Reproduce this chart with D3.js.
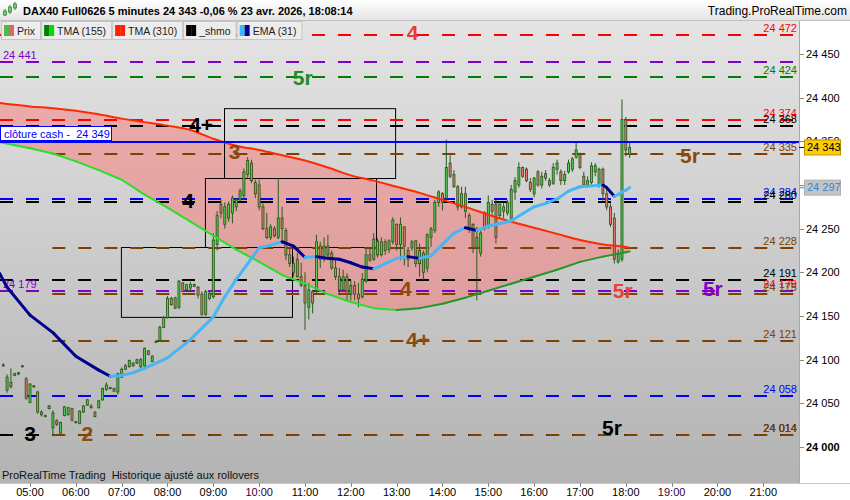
<!DOCTYPE html>
<html>
<head>
<meta charset="utf-8">
<script src="https://cdn.jsdelivr.net/npm/d3@7"></script>
<style>
body { margin: 0; background: #fff; }
svg { display: block; font-family: "Liberation Sans", Arial, sans-serif; }
svg text { white-space: pre; }
</style>
</head>
<body>
<div id="chart"></div>
<script>
// ---- data ----
const titleText = "DAX40 Full0626 5 minutes 24 343 -0,06 % 23 avr. 2026, 18:08:14";
const siteText = "Trading.ProRealTime.com";
const footText = "ProRealTime Trading  Historique ajusté aux rollovers";
const cashText = "clôture cash -  24 349";
const cashPrice = 24349;

const legendNames = ["Prix", "TMA (155)", "TMA (310)", "_shmo", "EMA (31)"];

const firstCandle = "04:25";   // 5 minute candles
// open, high, low, close
const ohlc = [
  [24094,24096,24092,24093],[24065,24083,24062,24080],[24074,24090,24067,24069],[24082,24085,24081,24084],
  [24084,24086,24082,24085],[24092,24094,24091,24093],[24078,24080,24054,24056],[24051,24073,24050,24072],
  [24069,24071,24068,24070],[24063,24064,24038,24040],[24040,24042,24035,24037],[24036,24037,24034,24035],
  [24044,24048,24043,24047],[24022,24042,24014,24039],[24030,24032,24024,24026],[24016,24029,24015,24028],
  [24036,24047,24035,24046],[24037,24046,24036,24045],[24044,24045,24029,24031],[24029,24030,24027,24028],
  [24027,24042,24026,24041],[24040,24048,24039,24047],[24048,24055,24047,24054],[24047,24049,24044,24045],
  [24040,24041,24034,24035],[24045,24054,24044,24053],[24054,24068,24053,24067],[24066,24074,24064,24071],
  [24068,24069,24066,24067],[24067,24068,24063,24064],[24063,24085,24060,24084],[24080,24091,24079,24089],
  [24089,24095,24088,24093],[24092,24100,24091,24099],[24096,24097,24092,24093],[24096,24101,24095,24100],
  [24092,24102,24090,24100],[24093,24114,24090,24113],[24110,24111,24105,24106],[24098,24105,24097,24104],
  [24120,24122,24119,24121],[24122,24139,24121,24137],[24137,24150,24136,24148],[24148,24173,24147,24170],
  [24170,24172,24162,24163],[24171,24172,24158,24159],[24160,24191,24158,24190],[24188,24189,24177,24178],
  [24180,24187,24179,24186],[24182,24189,24177,24186],[24184,24187,24183,24186],[24183,24184,24170,24174],
  [24175,24178,24150,24152],[24152,24180,24150,24178],[24170,24178,24168,24176],[24172,24245,24170,24237],
  [24232,24270,24225,24265],[24278,24283,24262,24268],[24255,24280,24250,24275],[24262,24281,24258,24278],
  [24268,24288,24256,24285],[24275,24285,24270,24283],[24283,24296,24281,24293],[24288,24319,24283,24315],
  [24312,24332,24308,24328],[24325,24329,24302,24305],[24303,24306,24285,24290],[24300,24306,24271,24275],
  [24275,24279,24248,24250],[24250,24268,24238,24240],[24240,24255,24237,24252],[24250,24253,24240,24242],
  [24240,24308,24238,24262],[24262,24275,24237,24250],[24248,24251,24214,24220],[24220,24228,24206,24210],
  [24210,24218,24195,24200],[24215,24222,24194,24195],[24195,24211,24183,24185],[24185,24200,24134,24165],
  [24160,24188,24146,24180],[24178,24180,24153,24165],[24180,24243,24175,24235],[24230,24235,24205,24215],
  [24215,24240,24212,24230],[24230,24243,24217,24220],[24222,24225,24203,24205],[24205,24214,24191,24195],
  [24195,24205,24174,24180],[24180,24203,24178,24195],[24195,24199,24168,24175],[24175,24191,24168,24185],
  [24185,24190,24168,24175],[24175,24188,24160,24170],[24172,24199,24170,24192],[24190,24229,24188,24220],
  [24220,24229,24212,24214],[24215,24245,24213,24238],[24236,24239,24217,24220],[24220,24240,24218,24235],
  [24235,24238,24220,24225],[24226,24238,24222,24236],[24235,24263,24232,24260],[24255,24256,24225,24232],
  [24232,24263,24214,24255],[24252,24253,24208,24230],[24225,24229,24206,24215],[24228,24237,24225,24235],
  [24236,24237,24206,24210],[24210,24233,24195,24225],[24222,24225,24191,24200],[24205,24245,24200,24243],
  [24240,24252,24229,24250],[24248,24283,24245,24280],[24280,24294,24275,24292],[24290,24292,24271,24280],
  [24285,24352,24283,24320],[24325,24334,24308,24310],[24312,24317,24297,24298],[24298,24300,24271,24275],
  [24275,24298,24273,24290],[24290,24298,24262,24270],[24265,24268,24245,24250],[24255,24256,24222,24228],
  [24228,24252,24168,24240],[24222,24248,24218,24245],[24268,24270,24248,24250],[24255,24288,24250,24280],
  [24278,24283,24265,24270],[24278,24283,24233,24240],[24265,24281,24262,24278],[24275,24280,24262,24270],
  [24268,24283,24265,24280],[24262,24300,24258,24295],[24292,24309,24283,24305],[24300,24326,24297,24320],
  [24320,24321,24308,24310],[24318,24320,24303,24305],[24303,24308,24292,24295],[24290,24309,24286,24308],
  [24315,24317,24298,24300],[24300,24315,24296,24310],[24308,24317,24305,24313],[24305,24308,24298,24300],
  [24302,24325,24300,24320],[24318,24329,24312,24325],[24315,24318,24300,24305],[24305,24316,24300,24312],
  [24315,24329,24313,24325],[24318,24332,24315,24330],[24332,24348,24330,24340],[24335,24337,24318,24320],
  [24310,24315,24297,24300],[24300,24310,24297,24305],[24303,24326,24300,24322],[24315,24325,24310,24322],
  [24300,24320,24297,24318],[24318,24320,24282,24290],[24290,24297,24271,24275],[24275,24279,24252,24255],
  [24262,24268,24210,24215],[24212,24226,24210,24222],[24215,24398,24212,24375],[24375,24378,24333,24340],
  [24335,24350,24331,24343]
];

const tmaTimes = ["04:20","05:00","05:30","06:00","06:30","07:00","07:30","08:00","08:30","09:00",
  "09:30","10:00","10:30","11:00","11:30","12:00","12:30","13:00","13:30","14:00",
  "14:30","15:00","15:30","16:00","16:30","17:00","17:30","18:00","18:05"];
const tma310 = [24394,24390,24388,24385,24381,24376,24372,24368,24363,24353,
  24345,24340,24334,24328,24320,24311,24305,24298,24291,24283,
  24275,24266,24258,24251,24244,24237,24232,24229,24228];
const tma155 = [24349,24342,24336,24327,24317,24306,24289,24274,24258,24242,
  24226,24212,24197,24187,24175,24166,24159,24157,24159,24164,
  24171,24179,24187,24195,24203,24212,24218,24223,24224];

const emaTimes = ["04:20","04:30","05:00","05:30","06:00","06:30","06:45","07:00","07:15","07:30",
  "08:00","08:30","09:00","09:15","09:30","09:45","10:00","10:15","10:30","10:45",
  "11:00","11:15","11:30","11:45","12:00","12:15","12:30","12:45","13:00","13:15",
  "13:30","13:45","14:00","14:15","14:30","14:45","15:00","15:15","15:30","15:45",
  "16:00","16:15","16:30","16:45","17:00","17:15","17:30","17:35","17:40","17:45",
  "17:50","17:55","18:00","18:05"];
const ema31 = [24199,24183,24151,24131,24104,24088,24081,24082,24085,24090,
  24102,24123,24149,24172,24192,24210,24228,24231,24235,24230,
  24217,24218,24216,24215,24211,24206,24204,24210,24216,24218,
  24216,24219,24232,24245,24251,24248,24253,24256,24259,24267,
  24275,24279,24284,24293,24298,24299,24300,24297,24292,24287,
  24289,24292,24294,24297];

// horizontal levels
const levelPrices = [24472,24441,24424,24374,24368,24335,24284,24280,24228,24191,24179,24179,24175,24121,24058,24014,24014];
const levelKinds  = ["rouge","violet","vert","rouge","noir","marron","bleu","noir","marron","noir","rouge","violet","marron","marron","bleu","noir","marron"];

// rectangles (time from, time to, low, high)
const boxFrom = ["09:14","08:49","06:59"];
const boxTo   = ["12:58","12:33","10:43"];
const boxLow  = [24308,24229,24149];
const boxHigh = [24388,24308,24229];

// text marks on the levels
const noteText  = ["4","5r","4+","3","5r","4","4","5r","5r","4+","3","2","5r"];
const noteKind  = ["rouge","vert","noir","marron","marron","noir","marron","rouge5r","violet","marron","noir","marron","noir"];
const noteTime  = ["13:21","10:57","08:44","09:28","19:24","08:27","13:12","17:56","19:54","13:28","05:00","06:15","17:42"];
const notePrice = [24475,24423,24369,24338,24334,24282,24181,24179,24182,24123,24016,24016,24022];

const lastPrice = 24343;
const lastEma = 24297;

const hourTicks = ["05:00","06:00","07:00","08:00","09:00","10:00","11:00","12:00","13:00",
  "14:00","15:00","16:00","17:00","18:00","19:00","20:00","21:00"];
const priceTicks = [24000,24050,24100,24150,24200,24250,24300,24350,24400,24450];

// ---- drawing ----
const W = 850, H = 500;
const plotR = 799, plotT = 21, plotB = 483;

const day = (s, sec) => { const [h, m] = s.split(":").map(Number); return new Date(2026, 3, 23, h, m, sec || 0); };
const fmt = d3.formatLocale({decimal: ",", thousands: " ", grouping: [3], currency: ["", ""]}).format(",d");

const x = d3.scaleTime()
  .domain([day("04:20", 43), day("21:46", 45)])
  .range([0, plotR]);
const y = d3.scaleLinear()
  .domain([24000, 24450])
  .range([447, 54]);

const colours = {
  rouge: "#ff0000", violet: "#8000c8", vert: "#008000", noir: "#000000",
  marron: "#804000", bleu: "#0000ff", rouge5r: "#e8403c"
};

const svg = d3.select("#chart").append("svg")
  .attr("width", W)
  .attr("height", H);

const defs = svg.append("defs");
const bg = defs.append("linearGradient").attr("id", "bg").attr("x1", 0).attr("y1", 0).attr("x2", 0).attr("y2", 1);
bg.append("stop").attr("offset", "0%").attr("stop-color", "#e4e4e4");
bg.append("stop").attr("offset", "100%").attr("stop-color", "#b3b3b3");
const hg = defs.append("linearGradient").attr("id", "hg").attr("x1", 0).attr("y1", 0).attr("x2", 0).attr("y2", 1);
hg.append("stop").attr("offset", "0%").attr("stop-color", "#ffffff");
hg.append("stop").attr("offset", "100%").attr("stop-color", "#e4e4e4");
defs.append("clipPath").attr("id", "plotclip")
  .append("rect").attr("x", 0).attr("y", plotT).attr("width", plotR).attr("height", plotB - plotT);

svg.append("rect").attr("width", W).attr("height", H).attr("fill", "#ffffff");
svg.append("rect")
  .attr("x", 0).attr("y", plotT)
  .attr("width", plotR).attr("height", plotB - plotT)
  .attr("fill", "url(#bg)");

const plot = svg.append("g").attr("clip-path", "url(#plotclip)");

// pink band between the two TMA
const tmaRows = tmaTimes.map((t, i) => ({t: day(t), a: tma155[i], b: tma310[i]}));
plot.append("path")
  .datum(tmaRows)
  .attr("fill", "rgba(255,110,110,0.45)")
  .attr("d", d3.area().curve(d3.curveMonotoneX)
    .x(d => x(d.t)).y0(d => y(d.a)).y1(d => y(d.b)));

// rectangles
plot.selectAll("rect.box")
  .data(boxFrom.map((f, i) => ({f: day(f), t: day(boxTo[i]), lo: boxLow[i], hi: boxHigh[i]})))
  .join("rect")
  .attr("class", "box")
  .attr("x", d => x(d.f) + 0.5)
  .attr("y", d => y(d.hi) + 0.5)
  .attr("width", d => x(d.t) - x(d.f))
  .attr("height", d => y(d.lo) - y(d.hi))
  .attr("fill", "none")
  .attr("stroke", "#000")
  .attr("stroke-width", 1);

// dashed levels
const levelRows = levelPrices.map((p, i) => ({p, k: levelKinds[i]}));
plot.selectAll("line.level")
  .data(levelRows)
  .join("line")
  .attr("class", "level")
  .attr("x1", d => d.k === "marron" ? x(day("05:29")) : 0)
  .attr("x2", plotR)
  .attr("y1", d => Math.round(y(d.p)))
  .attr("y2", d => Math.round(y(d.p)))
  .attr("stroke", d => colours[d.k])
  .attr("stroke-width", 2)
  .attr("stroke-dasharray", "13,13")
  .attr("stroke-dashoffset", d => d.k === "marron" ? -x(day("05:29")) : 0);

// level labels
plot.selectAll("text.level")
  .data(levelRows)
  .join("text")
  .attr("class", "level")
  .attr("x", d => d.k === "violet" ? 3 : 797)
  .attr("y", d => y(d.p) - 3)
  .attr("text-anchor", d => d.k === "violet" ? "start" : "end")
  .attr("font-size", 11)
  .attr("fill", d => colours[d.k])
  .text(d => fmt(d.p));

// candles
const t0 = day(firstCandle);
const candles = ohlc.map((r, i) => ({t: d3.timeMinute.offset(t0, 5 * i), o: r[0], h: r[1], l: r[2], c: r[3]}));
const step = x(d3.timeMinute.offset(t0, 5)) - x(t0);
const bw = step * 0.52;
const cg = plot.append("g");
cg.selectAll("line")
  .data(candles)
  .join("line")
  .attr("x1", d => x(d.t)).attr("x2", d => x(d.t))
  .attr("y1", d => y(d.h)).attr("y2", d => y(d.l))
  .attr("stroke", "#2b5a1c")
  .attr("stroke-width", 1);
cg.selectAll("rect")
  .data(candles)
  .join("rect")
  .attr("x", d => x(d.t) - bw / 2)
  .attr("y", d => y(Math.max(d.o, d.c)))
  .attr("width", bw)
  .attr("height", d => Math.max(1, Math.abs(y(d.o) - y(d.c))))
  .attr("fill", d => d.c >= d.o ? "#56d056" : "#ee7b72")
  .attr("stroke", "#2b5a1c")
  .attr("stroke-width", 0.9);

// TMA 310
plot.append("path")
  .datum(tmaRows)
  .attr("fill", "none")
  .attr("stroke", "#ff2a00")
  .attr("stroke-width", 2)
  .attr("d", d3.line().curve(d3.curveMonotoneX).x(d => x(d.t)).y(d => y(d.b)));

// TMA 155, colour by slope
plot.append("g").selectAll("line")
  .data(d3.pairs(tmaRows))
  .join("line")
  .attr("x1", d => x(d[0].t)).attr("y1", d => y(d[0].a))
  .attr("x2", d => x(d[1].t)).attr("y2", d => y(d[1].a))
  .attr("stroke", d => d[1].a < d[0].a ? "#2add2a" : "#22962a")
  .attr("stroke-width", 2)
  .attr("stroke-linecap", "round");

// EMA 31, colour by slope
const emaRows = emaTimes.map((t, i) => ({t: day(t), v: ema31[i]}));
plot.append("g").selectAll("line")
  .data(d3.pairs(emaRows))
  .join("line")
  .attr("x1", d => x(d[0].t)).attr("y1", d => y(d[0].v))
  .attr("x2", d => x(d[1].t)).attr("y2", d => y(d[1].v))
  .attr("stroke", d => d[1].v < d[0].v ? "#00008c" : "#47b6f5")
  .attr("stroke-width", 3)
  .attr("stroke-linecap", "round");

// cash close line
plot.append("line")
  .attr("x1", 0).attr("x2", plotR)
  .attr("y1", Math.round(y(cashPrice))).attr("y2", Math.round(y(cashPrice)))
  .attr("stroke", "#0000ff")
  .attr("stroke-width", 2);
plot.append("rect")
  .attr("x", 0.5).attr("y", Math.round(y(cashPrice)) - 15.5)
  .attr("width", 111).attr("height", 14)
  .attr("fill", "#fff").attr("stroke", "#0000ff");
plot.append("text")
  .attr("x", 4).attr("y", Math.round(y(cashPrice)) - 4)
  .attr("font-size", 11).attr("fill", "#0000ff")
  .text(cashText);

// big notes
plot.selectAll("text.note")
  .data(noteText.map((s, i) => ({s, k: noteKind[i], t: day(noteTime[i]), p: notePrice[i]})))
  .join("text")
  .attr("class", "note")
  .attr("x", d => x(d.t))
  .attr("y", d => y(d.p))
  .attr("dy", "0.36em")
  .attr("text-anchor", "middle")
  .attr("font-size", 21)
  .attr("font-weight", "bold")
  .attr("fill", d => d.k === "marron" ? "#8a4a10" : d.k === "vert" ? "#1f8a1f" : d.k === "rouge" ? "#e83a3a" : colours[d.k])
  .text(d => d.s);

// right axis
svg.append("line")
  .attr("x1", plotR + 0.5).attr("x2", plotR + 0.5)
  .attr("y1", plotT).attr("y2", plotB)
  .attr("stroke", "#a8a8a8");
const ra = svg.append("g");
ra.selectAll("line")
  .data(priceTicks)
  .join("line")
  .attr("x1", plotR + 1).attr("x2", plotR + 5)
  .attr("y1", d => Math.round(y(d)) + 0.5).attr("y2", d => Math.round(y(d)) + 0.5)
  .attr("stroke", "#888");
ra.selectAll("text")
  .data(priceTicks)
  .join("text")
  .attr("x", plotR + 7)
  .attr("y", d => y(d))
  .attr("dy", "0.35em")
  .attr("font-size", 11)
  .attr("font-weight", d => d === 24000 ? "bold" : "normal")
  .attr("fill", "#000")
  .text(d => fmt(d));

// last price and EMA value boxes
svg.append("line")
  .attr("x1", plotR).attr("x2", plotR + 5)
  .attr("y1", y(lastEma)).attr("y2", y(lastEma))
  .attr("stroke", "#47b6f5").attr("stroke-width", 1.5);
svg.append("rect")
  .attr("x", plotR + 5.5).attr("y", y(lastEma) - 7.5)
  .attr("width", 36).attr("height", 15)
  .attr("fill", "#c4c4c4").attr("stroke", "#b0b0b0");
svg.append("text")
  .attr("x", plotR + 8).attr("y", y(lastEma)).attr("dy", "0.35em")
  .attr("font-size", 11).attr("fill", "#2a8ad8")
  .text(fmt(lastEma));
svg.append("line")
  .attr("x1", plotR).attr("x2", plotR + 5)
  .attr("y1", y(lastPrice)).attr("y2", y(lastPrice))
  .attr("stroke", "#000").attr("stroke-width", 1);
svg.append("rect")
  .attr("x", plotR + 5.5).attr("y", y(lastPrice) - 7.5)
  .attr("width", 36).attr("height", 15)
  .attr("fill", "#ffcc00").attr("stroke", "#b89400");
svg.append("text")
  .attr("x", plotR + 8).attr("y", y(lastPrice)).attr("dy", "0.35em")
  .attr("font-size", 11).attr("fill", "#000")
  .text(fmt(lastPrice));

// bottom time axis
svg.append("line")
  .attr("x1", 0).attr("x2", W)
  .attr("y1", plotB + 0.5).attr("y2", plotB + 0.5)
  .attr("stroke", "#c8c8c8");
const ba = svg.append("g");
ba.selectAll("line")
  .data(hourTicks)
  .join("line")
  .attr("x1", d => Math.round(x(day(d))) + 0.5).attr("x2", d => Math.round(x(day(d))) + 0.5)
  .attr("y1", plotB).attr("y2", plotB + 4)
  .attr("stroke", "#888");
ba.selectAll("text")
  .data(hourTicks)
  .join("text")
  .attr("x", d => x(day(d)))
  .attr("y", 496)
  .attr("text-anchor", "middle")
  .attr("font-size", 11)
  .attr("fill", d => (d === "10:00" || d === "19:00") ? "#3a0038" : "#000")
  .text(d => d);

svg.append("text")
  .attr("x", 2).attr("y", 479)
  .attr("font-size", 11).attr("fill", "#111")
  .text(footText);

// header
svg.append("rect").attr("width", W).attr("height", 20).attr("fill", "url(#hg)");
svg.append("line").attr("x1", 0).attr("x2", W).attr("y1", 20.5).attr("y2", 20.5).attr("stroke", "#c0c0c0");
const icon = svg.append("g");
[[5, 9, 16, 11, 15], [10, 5, 14, 7, 12], [15, 2, 10, 4, 8]].forEach(r => {
  icon.append("line").attr("x1", r[0]).attr("x2", r[0]).attr("y1", r[1]).attr("y2", r[2]).attr("stroke", "#2d7a2d");
  icon.append("rect").attr("x", r[0] - 1.5).attr("y", r[3]).attr("width", 3).attr("height", r[4] - r[3])
    .attr("fill", "#6ad36a").attr("stroke", "#2d7a2d").attr("stroke-width", 0.7);
});
svg.append("text")
  .attr("x", 23).attr("y", 15)
  .attr("font-size", 11).attr("font-weight", "bold")
  .text(titleText);
svg.append("text")
  .attr("x", 847).attr("y", 15)
  .attr("text-anchor", "end")
  .attr("font-size", 12)
  .text(siteText);

// legend
const swatches = [["#4cbb4c", "#e06666"], ["#008000", "#00dd00"], ["#ff2200", "#ff2200"], ["#000000", "#000000"], ["#40b4ff", "#000099"]];
let lx = 1;
legendNames.forEach((name, i) => {
  const g = svg.append("g");
  const box = g.append("rect").attr("x", lx + 0.5).attr("y", 21.5).attr("height", 18)
    .attr("fill", "#ececec").attr("stroke", "#c4c4c4");
  g.append("rect").attr("x", lx + 3).attr("y", 25).attr("width", 5).attr("height", 11).attr("fill", swatches[i][0]);
  g.append("rect").attr("x", lx + 8).attr("y", 25).attr("width", 5).attr("height", 11).attr("fill", swatches[i][1]);
  const t = g.append("text").attr("x", lx + 16).attr("y", 34.5)
    .attr("font-size", 10.5).attr("fill", "#222").text(name);
  const w = t.node().getComputedTextLength() + 21;
  box.attr("width", w);
  lx += w + 1;
});
</script>
</body>
</html>
